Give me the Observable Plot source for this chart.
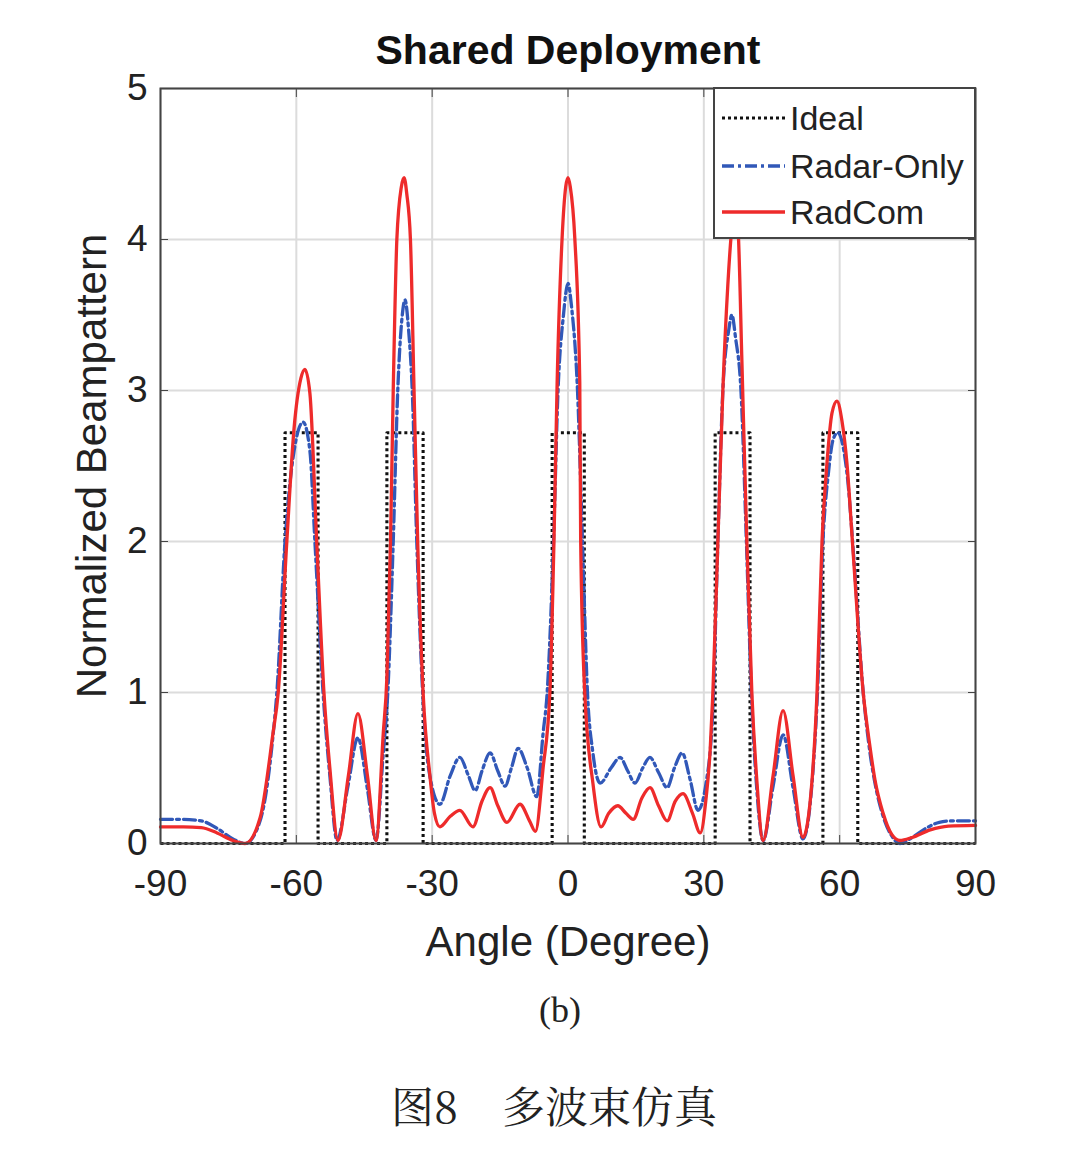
<!DOCTYPE html>
<html>
<head>
<meta charset="utf-8">
<script src="https://cdn.jsdelivr.net/npm/d3@7"></script>
<script src="https://cdn.jsdelivr.net/npm/@observablehq/plot@0.6"></script>
<style>
  html, body { margin: 0; padding: 0; background: #fff; }
  body { position: relative; width: 1080px; height: 1156px; overflow: hidden; }
  #chart { position: absolute; left: 0; top: 0; }
  .sub { position: absolute; left: 0; width: 1080px; text-align: center; color: #222; box-sizing: border-box; }
  #sub-b { top: 988px; line-height: 44px; font-family: "Liberation Serif", "DejaVu Serif", serif; font-size: 36px; padding-left: 40px; }
  #sub-cap { top: 1080px; line-height: 50px; font-family: "Noto Serif CJK SC", "Noto Sans CJK SC", serif; font-size: 43px; padding-left: 28px; white-space: pre; }
</style>
</head>
<body>
<div id="chart"></div>
<div class="sub" id="sub-b">(b)</div>
<div class="sub" id="sub-cap">图8    多波束仿真</div>
<script>
// ---- Data ----
const titleText = "Shared Deployment";
const xLabel = "Angle (Degree)";
const yLabel = "Normalized Beampattern";
const xTicks = [-90, -60, -30, 0, 30, 60, 90];
const yTicks = [0, 1, 2, 3, 4, 5];
const seriesNames = ["Ideal", "Radar-Only", "RadCom"];

// Ideal: rectangular beams
const idealStart = [-62.5, -40.0, -3.5, 32.5, 56.3];
const idealEnd   = [-55.2, -32.0,  3.6, 40.2, 64.0];
const idealLevel = 2.72;

// Radar-Only (blue dash-dot)
const radarAngle = [-90,-85,-81,-77.5,-74,-71.3,-68,-65.2,-64.3,-62.5,-60.5,-58.5,-57,-55.9,-54.1,-52.6,-51,
  -48.6,-46.4,-44.3,-42.4,-40.8,-39.8,-38.6,-37.6,-36.6,-36,-35.2,-34.4,-33.4,-32.1,-30.8,-28.3,
  -26,-23.9,-22,-20.5,-19,-17.2,-15.5,-13.9,-12.5,-11,-9,-6.9,-5.5,-4.6,-3.2,-2.2,-1,0,0.8,2.1,3.2,4.3,5.5,7.1,
  9.5,11.5,13.2,14.8,16.5,18.1,20,21.9,23.5,25.2,27,28.7,30.5,32,33.1,34.2,35.5,36.2,37,38.2,39.4,40.5,41.6,43.1,
  45.3,47.5,49.7,51.9,53.9,55.1,56.3,57.5,58.6,59.6,60.6,61.8,63.1,65.2,66.7,67.8,69.6,71.5,73.3,76,79,82,85,90];
const radarValue = [0.16,0.16,0.15,0.10,0.03,0.0,0.15,0.70,1.0,2.0,2.6,2.79,2.6,2.0,1.0,0.45,0.02,
  0.38,0.70,0.36,0.02,0.6,1.0,2.0,3.0,3.5,3.6,3.4,3.0,2.0,1.0,0.5,0.26,
  0.45,0.57,0.45,0.35,0.48,0.60,0.48,0.38,0.50,0.63,0.50,0.31,0.73,1.0,2.0,3.0,3.5,3.71,3.55,3.0,2.0,1.0,0.6,0.40,
  0.50,0.57,0.48,0.40,0.50,0.57,0.47,0.37,0.50,0.60,0.42,0.22,0.40,0.9,2.0,3.0,3.4,3.5,3.35,3.0,2.0,1.0,0.4,0.02,
  0.38,0.72,0.37,0.03,0.40,1.0,2.0,2.45,2.68,2.72,2.65,2.4,1.9,1.0,0.6,0.4,0.18,0.05,0.0,0.04,0.10,0.14,0.15,0.15];

// RadCom (red solid)
const radcomAngle = [-90,-85,-81,-77.5,-74,-71.3,-68,-65.2,-64,-62.1,-60.5,-59,-58.1,-57,-55.5,-53.9,-52.6,-50.8,
  -48.5,-46.4,-44.3,-42.4,-40.8,-40,-39.2,-38.6,-37.8,-36.8,-36.2,-35.6,-34.8,-34,-33.2,-32,-30.5,-29.5,-28.3,
  -26,-23.9,-21,-19,-17.2,-15.5,-13.5,-10.6,-8.5,-7.2,-5.5,-4,-3.1,-2.4,-1.3,-0.5,0,0.5,1.5,2.6,2.8,3.7,5.5,7.3,
  9,11,12.8,14.4,16.3,18.1,20,21.9,23.7,25.4,27.5,29.2,30.5,31.4,32,33.1,34.2,35.3,36.1,36.9,37.6,38.4,39.5,40.6,41.7,43.1,
  45.3,47.5,49.7,51.9,53.9,55,56.1,57.2,58.3,59.4,60.5,61.6,62.9,65.2,66.7,67.8,69.6,71.5,73.3,76,80,84,90];
const radcomValue = [0.11,0.11,0.105,0.07,0.02,0.0,0.17,0.72,1.0,2.0,2.75,3.08,3.14,2.98,2.0,1.0,0.5,0.02,
  0.45,0.86,0.45,0.02,0.73,1.1,2.0,3.0,4.0,4.35,4.41,4.3,4.0,3.0,2.0,1.0,0.45,0.2,0.11,
  0.18,0.22,0.11,0.28,0.37,0.25,0.14,0.26,0.15,0.08,0.5,1.0,2.0,3.05,4.01,4.35,4.41,4.35,4.01,3.05,2.0,1.0,0.4,0.11,
  0.2,0.25,0.2,0.16,0.3,0.37,0.25,0.15,0.28,0.33,0.2,0.07,0.3,0.62,1.0,2.0,3.0,3.7,4.05,4.25,4.05,3.2,2.0,1.0,0.42,0.02,
  0.45,0.88,0.45,0.04,0.42,1.0,2.0,2.52,2.85,2.93,2.8,2.52,1.96,1.0,0.64,0.42,0.2,0.06,0.02,0.04,0.09,0.115,0.12];

// ---- Build tables ----
const idealPts = [{x: -90, y: 0}];
idealStart.forEach((s, i) => {
  idealPts.push({x: s, y: 0}, {x: s, y: idealLevel}, {x: idealEnd[i], y: idealLevel}, {x: idealEnd[i], y: 0});
});
idealPts.push({x: 90, y: 0});
const radarPts = radarAngle.map((a, i) => ({x: a, y: radarValue[i]}));
const radcomPts = radcomAngle.map((a, i) => ({x: a, y: radcomValue[i]}));

const colors = {ideal: "#111111", radar: "#3158b8", radcom: "#ee2b2b"};
const font = "'Liberation Sans', Arial, Helvetica, sans-serif";
const W = 1080, H = 980, mL = 160, mR = 105, mT = 88, mB = 137;
const idealDash = "3,3", radarDash = "12,4,3,4";
const wIdeal = 3.1, wRadar = 3.3, wRadcom = 3.3;

const plot = Plot.plot({
  width: W, height: H,
  marginLeft: mL, marginRight: mR, marginTop: mT, marginBottom: mB,
  style: {fontFamily: font, color: "#222", background: "#fff", overflow: "visible"},
  x: {domain: [-90, 90]},
  y: {domain: [0, 5]},
  marks: [
    Plot.gridX(xTicks, {stroke: "#dcdcdc", strokeOpacity: 1, strokeWidth: 2}),
    Plot.gridY(yTicks, {stroke: "#dcdcdc", strokeOpacity: 1, strokeWidth: 2}),
    Plot.axisX(xTicks, {tickSize: 0, tickPadding: 26, fontSize: 37, tickFormat: d => String(d), label: null, fill: "#222"}),
    Plot.axisY(yTicks, {tickSize: 0, tickPadding: 13, fontSize: 37, tickFormat: d => String(d), label: null, fill: "#222"}),
    Plot.axisX(xTicks, {anchor: "bottom", tickSize: -8, text: null, label: null, stroke: "#444"}),
    Plot.axisX(xTicks, {anchor: "top", tickSize: -8, text: null, label: null, stroke: "#444"}),
    Plot.axisY(yTicks, {anchor: "left", tickSize: -8, text: null, label: null, stroke: "#444"}),
    Plot.axisY(yTicks, {anchor: "right", tickSize: -8, text: null, label: null, stroke: "#444"}),
    Plot.line(idealPts, {x: "x", y: "y", stroke: colors.ideal, strokeWidth: wIdeal, strokeDasharray: idealDash, strokeLinecap: "butt"}),
    Plot.line(radarPts, {x: "x", y: "y", stroke: colors.radar, strokeWidth: wRadar, strokeDasharray: radarDash, curve: "monotone-x"}),
    Plot.line(radcomPts, {x: "x", y: "y", stroke: colors.radcom, strokeWidth: wRadcom, curve: "monotone-x"}),
    Plot.frame({stroke: "#444", strokeWidth: 2}),
    Plot.text([titleText], {frameAnchor: "top", lineAnchor: "middle", textAnchor: "middle", dy: -38, fontSize: 41, fontWeight: "bold", fill: "#111"}),
    Plot.text([xLabel], {frameAnchor: "bottom", lineAnchor: "middle", textAnchor: "middle", dy: 99, fontSize: 42, fill: "#222"}),
    Plot.text([yLabel], {frameAnchor: "left", lineAnchor: "middle", textAnchor: "middle", dx: -68, rotate: -90, fontSize: 42, fill: "#222"})
  ]
});

// ---- Legend (top-right, inside frame) ----
const svg = d3.select(plot);
const right = W - mR;
const lg = svg.append("g").attr("font-family", font).attr("text-anchor", "start");
const lx = 714, ly = mT, lw = right - lx, lh = 150;
lg.append("rect").attr("x", lx).attr("y", ly).attr("width", lw).attr("height", lh)
  .attr("fill", "#fff").attr("stroke", "#444").attr("stroke-width", 2);
const styles = [
  {stroke: colors.ideal, dash: idealDash, w: wIdeal},
  {stroke: colors.radar, dash: radarDash, w: wRadar},
  {stroke: colors.radcom, dash: null, w: wRadcom}
];
const rowY = [118, 166, 212];
seriesNames.forEach((name, i) => {
  const ln = lg.append("line").attr("x1", lx + 8).attr("x2", lx + 71)
    .attr("y1", rowY[i]).attr("y2", rowY[i])
    .attr("stroke", styles[i].stroke).attr("stroke-width", styles[i].w);
  if (styles[i].dash) ln.attr("stroke-dasharray", styles[i].dash);
  lg.append("text").attr("x", lx + 76).attr("y", rowY[i]).attr("dy", "0.35em")
    .attr("text-anchor", "start")
    .attr("font-size", 34).attr("fill", "#222").text(name);
});

document.getElementById("chart").appendChild(plot);
</script>
</body>
</html>
